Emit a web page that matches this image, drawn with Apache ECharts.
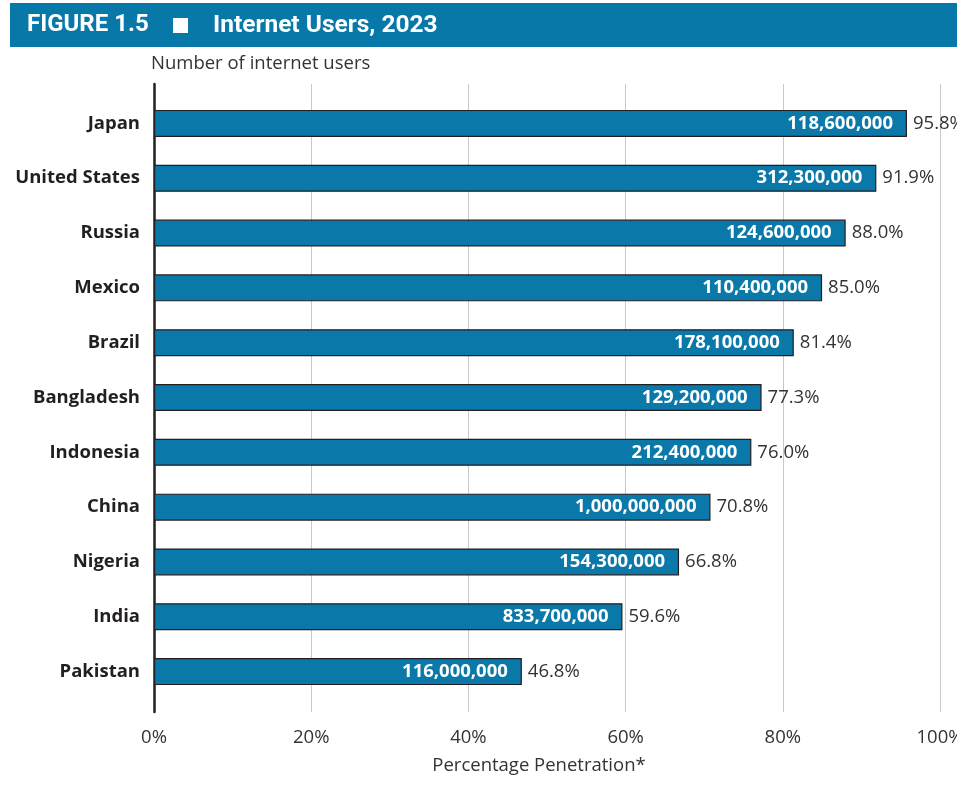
<!DOCTYPE html>
<html>
<head>
<meta charset="utf-8">
<script src="https://cdn.jsdelivr.net/npm/echarts@6/dist/echarts.min.js"></script>
<style>
  html, body { margin: 0; padding: 0; background: #fff; }
  #chart { width: 957px; height: 789px; }
</style>
</head>
<body>
<div id="chart"></div>
<script>
// data (top to bottom)
var countries = ["Japan", "United States", "Russia", "Mexico", "Brazil", "Bangladesh",
    "Indonesia", "China", "Nigeria", "India", "Pakistan"];
var penetration = [95.8, 91.9, 88.0, 85.0, 81.4, 77.3, 76.0, 70.8, 66.8, 59.6, 46.8];
var users = [118600000, 312300000, 124600000, 110400000, 178100000, 129200000,
    212400000, 1000000000, 154300000, 833700000, 116000000];
var xTicks = [0, 20, 40, 60, 80, 100];

var barColor = "#0a78a8";
var textColor = "#231f20";
var font = "Open Sans";
var fs = 18.5;

function fmtNum(n) {
    return String(n).replace(/\B(?=(\d{3})+(?!\d))/g, ",");
}

var chart = echarts.init(document.getElementById("chart"));
chart.setOption({
    animation: false,
    textStyle: { fontFamily: font },
    graphic: [
        {
            type: "rect",
            shape: { x: 10, y: 3, width: 947, height: 44 },
            style: { fill: "#0878a8" }
        },
        {
            type: "text",
            left: 27, top: 13,
            style: { text: "FIGURE 1.5", fill: "#fff", font: "bold 24px Roboto" }
        },
        {
            type: "rect",
            shape: { x: 173, y: 18, width: 15, height: 15 },
            style: { fill: "#fff" }
        },
        {
            type: "text",
            left: 213, top: 13,
            style: { text: "Internet Users, 2023", fill: "#fff", font: "bold 24.5px Roboto" }
        },
        {
            type: "text",
            left: 151, top: 54,
            style: { text: "Number of internet users", fill: "#333", font: fs + "px 'Open Sans'" }
        }
    ],
    grid: [
        // background grid: gridlines, axis line, tick labels
        { left: 154, right: 17, top: 84, height: 628, outerBoundsMode: "none", containLabel: false },
        // bar grid
        { left: 154, right: 17, top: 96, height: 603, outerBoundsMode: "none", containLabel: false }
    ],
    xAxis: [
        {
            gridIndex: 0,
            type: "value",
            min: 0, max: 100, interval: 20,
            name: "Percentage Penetration*",
            nameLocation: "middle",
            nameGap: 44,
            nameTextStyle: { color: "#333", fontSize: fs, fontFamily: font, padding: [0, 16, 0, 0] },
            axisLine: { show: false },
            axisTick: { show: false },
            axisLabel: {
                color: "#333", fontSize: fs, margin: 16,
                formatter: function (v) { return xTicks.indexOf(v) >= 0 ? v + "%" : ""; }
            },
            splitLine: { show: true, lineStyle: { color: "#c8c8c8", width: 1 } }
        },
        {
            gridIndex: 1,
            type: "value",
            min: 0, max: 100,
            show: false
        }
    ],
    yAxis: [
        {
            gridIndex: 0,
            type: "category",
            data: [""],
            axisLine: { show: true, lineStyle: { color: "#231f20", width: 2.5 } },
            axisTick: { show: false },
            axisLabel: { show: false },
            splitLine: { show: false }
        },
        {
            gridIndex: 1,
            type: "category",
            inverse: true,
            data: countries,
            axisLine: { show: false },
            axisTick: { show: false },
            axisLabel: {
                color: textColor, fontSize: fs, fontWeight: "bold", margin: 14
            }
        }
    ],
    series: [
        {
            type: "bar",
            xAxisIndex: 1, yAxisIndex: 1,
            data: penetration,
            barWidth: 27,
            itemStyle: { color: barColor, borderColor: "#231f20", borderWidth: 1.2 },
            label: {
                show: true,
                position: "insideRight",
                distance: 14,
                color: "#fff",
                fontSize: fs,
                fontWeight: "bold",
                formatter: function (p) { return fmtNum(users[p.dataIndex]); }
            }
        },
        {
            type: "bar",
            xAxisIndex: 1, yAxisIndex: 1,
            data: penetration,
            barWidth: 27,
            barGap: "-100%",
            itemStyle: { color: "transparent" },
            label: {
                show: true,
                position: "right",
                distance: 6,
                color: "#333",
                fontSize: fs,
                formatter: function (p) { return p.value.toFixed(1) + "%"; }
            }
        }
    ]
});
</script>
</body>
</html>
